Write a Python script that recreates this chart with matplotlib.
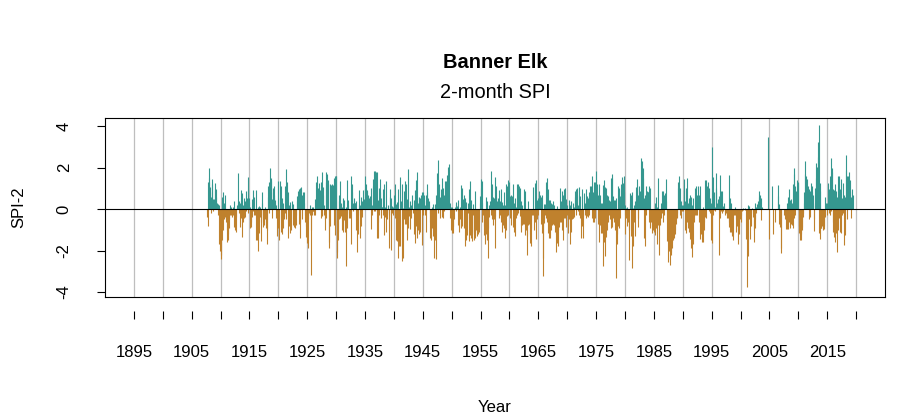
import matplotlib
matplotlib.use("Agg")
import matplotlib.pyplot as plt
import numpy as np

# monthly 2-month SPI, Banner Elk (first value = Sep 1907)
start_year = 1907
start_month = 9

spi_1900s = [
    -0.4, 1.3, -0.8, 1.3,                                                # 1907 Sep-Dec
    2.0, 1.5, 1.05, 0.8, 0.6, -0.2, 1.45, 1.2, 0.5, -0.1, 0.5, 0.3,      # 1908
    1.25, 0.9, 0.95, 0.6, 0.1, 0.3, 0.25, -0.3, 0.2, -1.7, -1.2, -2.0,   # 1909
]
spi_1910s = [
    -2.2, -2.4, -1.5, 0.6, -0.3, 0.8, -1.0, 0.3, -0.5, 0.7, -0.4, -0.6,
    -0.5, -1.6, -1.0, -1.5, -1.2, -0.9, -0.5, -0.3, 0.2, -0.3, 0.1, -0.4,
    -0.2, 0.1, -0.3, 0.4, -0.85, -0.6, -1.0, -0.8, -1.1, -0.4, 0.2, 0.1,
    0.3, 1.75, 0.4, -0.2, -0.85, 0.3, 0.9, -0.45, 0.75, -1.35, -0.6, 0.2,
    -0.45, 0.55, -0.4, 0.4, 0.85, -0.1, 0.55, 0.3, 1.55, 0.9, -0.2, 0.35,
    0.55, -0.9, 0.1, -0.85, -0.6, -0.4, 0.5, -0.1, 0.9, 0.6, -0.3, -0.1,
    -0.3, 0.9, -1.5, -1.5, -1.0, -2.0, 0.1, -1.15, 0.15, -0.4, 0.1, -0.3,
    -1.55, -0.6, 0.8, 0.3, -0.85, -0.5, -0.75, -0.3, -0.5, 0.1, -0.9, -0.6,
    -1.7, -1.0, 1.1, 0.6, 1.3, -0.2, 0.4, 2.0, 1.5, 1.35, -0.45, 0.5,
    1.0, 0.8, 1.1, 0.7, 0.55, 0.3, 0.45, -0.45, 0.2, -0.3, -1.3, -0.9,
]
spi_1920s = [
    1.35, -0.5, -1.5, 0.55, 1.37, -1.1, 1.1, -1.2, 0.55, 0.3, -0.9, -0.5,
    -0.4, -0.2, 1.1, -0.5, 1.95, 1.3, 0.85, 0.5, 0.8, -1.4, -0.8, 0.2,
    0.35, -1.15, -1.0, -0.5, 0.4, 0.2, 0.25, -0.75, -0.85, -0.6, -0.9, -0.4,
    -0.75, -0.3, 0.65, 0.4, 0.65, 0.85, -0.7, 0.95, -1.4, -0.6, 1.0, 0.5,
    1.05, -0.5, 0.7, 0.5, 0.8, 0.8, 0.3, -0.6, -0.3, -1.35, -0.8, -0.4,
    -1.65, -1.9, -0.5, -0.2, -0.1, 0.2, -0.3, -1.0, -3.2, -0.3, 0.1, -0.1,
    0.1, -0.1, -0.2, -0.3, -0.3, 0.5, 0.3, 1.3, 0.8, 1.6, 1.0, 0.6,
    0.3, 1.25, 0.9, 0.6, 1.3, -0.45, 1.8, -0.35, 1.05, 0.7, 0.2, -0.3,
    -1.0, -0.5, 1.8, -0.45, 1.3, 0.9, 1.7, 1.2, 1.4, -1.9, -1.6, -0.8,
    1.2, 0.6, 1.15, 0.8, 1.2, 0.9, 1.15, 1.5, -0.75, 1.58, -1.25, 1.6,
]
spi_1930s = [
    1.6, -2.35, -2.05, -1.5, -1.1, -0.5, 0.7, 0.4, 1.37, -0.45, 0.3, -0.35,
    0.1, -1.0, 0.55, -1.1, 0.45, -0.55, -1.1, -0.6, -2.75, 0.1, 1.4, -0.9,
    0.45, 0.2, -0.45, -0.2, -0.45, -0.3, 1.58, -1.7, 1.2, 0.8, 0.1, 0.3,
    -0.1, 0.2, 0.55, 0.3, 0.3, 0.4, -1.0, -0.6, -2.05, -1.2, -0.3, 0.2,
    0.9, -1.4, 0.2, -0.8, 0.6, 0.4, -0.4, 0.1, 0.9, 0.5, 0.3, 0.95,
    0.95, 1.6, 1.2, 0.95, 0.9, 0.8, 0.7, 0.6, 0.55, 0.4, 0.65, 0.3,
    1.0, -0.95, -0.3, 0.2, 1.45, 1.1, 1.85, -0.1, 1.85, -0.1, 1.8, 1.2,
    1.8, -1.4, -1.4, -0.6, 0.45, 1.0, -0.3, 1.45, 0.8, 0.55, -0.45, 0.1,
    0.1, -0.3, 0.95, 1.2, -1.25, 0.1, -0.4, 1.37, -1.1, -0.5, -0.2, 0.1,
    0.2, -1.9, -0.3, 0.6, 0.95, 0.55, -1.95, -1.0, 0.15, -0.2, 0.1, -0.3,
]
spi_1940s = [
    0.7, 0.4, 1.2, -0.45, 0.25, -1.5, 0.35, -1.55, 0.95, -2.35, -1.8, -0.5,
    1.55, -1.8, 0.4, 0.1, 1.2, -2.5, -2.35, 0.05, 0.85, -0.5, 0.3, -0.7,
    1.37, -0.7, 1.2, -1.5, 0.5, -0.9, 1.95, -0.35, 0.1, -0.95, 0.4, -0.45,
    0.2, 0.1, 0.7, -0.2, -0.1, 0.45, -1.2, 0.9, -1.65, -0.8, 1.4, 0.6,
    1.8, -1.4, -1.0, 0.3, 0.6, -1.2, 0.55, -1.1, 0.7, 0.4, 0.8, -1.75,
    0.8, -0.3, 0.7, 0.4, -0.3, 0.2, 0.7, -1.1, 1.2, 0.8, 0.55, 0.3,
    0.4, 0.2, -0.2, -0.6, -1.4, -1.0, -1.5, -0.9, 0.1, -1.3, 0.25, -0.3,
    -2.35, -1.5, 0.25, -2.4, 0.7, 0.4, 1.75, -0.2, 2.35, 1.2, 0.55, -0.45,
    0.6, 0.95, 0.5, -0.4, 1.5, 1.0, 0.45, -0.45, 0.7, -0.1, 0.3, 1.37,
    1.37, 1.0, 1.65, 1.2, 2.05, 1.5, 2.15, 0.7, -0.45, 0.3, -1.0, 0.1,
]
spi_1950s = [
    0.1, -1.15, -0.8, -1.15, -0.5, -0.1, 0.1, 0.05, 0.35, -0.1, 0.25, 0.15,
    0.1, -0.75, 0.45, -0.85, -1.1, -0.5, 0.1, -0.9, 1.18, -0.8, 1.0, 0.5,
    0.2, -0.9, 0.7, -1.8, 0.55, -1.5, 0.35, -1.25, -0.5, -0.2, 0.3, 0.1,
    0.95, -1.55, 1.37, -1.25, 0.45, -1.4, -1.2, -1.55, 0.25, -0.3, -1.1, -1.5,
    0.85, -1.4, -1.0, -0.8, -1.3, -1.1, -1.2, -0.9, -1.1, -0.5, 0.65, 0.3,
    1.45, 1.0, 1.37, 0.3, -0.6, -0.3, -0.2, -0.8, -1.25, -1.0, -1.7, -1.2,
    0.6, -1.5, 0.4, -2.35, -0.9, -0.4, 0.2, 0.1, 0.4, -0.3, 1.85, -0.5,
    1.2, -0.75, 0.6, -0.5, 0.55, -1.9, 1.55, -0.35, 1.1, 0.6, 0.25, 0.4,
    0.25, 0.55, -0.45, 0.9, -0.3, 0.4, -0.6, 0.95, -1.1, 0.35, -0.75, 0.2,
    0.8, -0.9, 0.2, -1.4, 1.2, -1.0, 1.1, -0.35, 1.0, -0.3, 1.4, 0.8,
]
spi_1960s = [
    1.3, -0.45, 0.65, -0.75, 0.7, 0.3, 0.65, -0.85, 1.2, -1.1, 0.3, -1.3,
    0.55, -0.45, 0.1, -0.3, 1.2, -0.2, 1.2, 0.9, 1.1, -0.35, 1.0, -0.75,
    0.4, -1.1, 0.2, -0.75, -0.7, -0.4, 0.95, -0.7, 0.85, -1.25, -0.5, -1.0,
    -2.2, -1.3, 0.4, -0.75, -0.7, -0.5, -1.65, -1.2, -1.8, -0.9, -0.3, -0.2,
    1.05, -0.3, -0.45, -0.2, -1.0, -0.6, 1.25, -1.45, 1.4, -0.5, 0.45, -0.3,
    0.55, 0.3, 0.85, 0.5, 0.7, -0.7, 0.6, -1.15, 0.7, -3.25, -2.35, 0.25,
    -0.65, -0.3, 0.25, -0.45, 1.3, -0.6, 1.5, -0.45, 0.95, -1.15, 0.45, -1.4,
    0.45, -1.4, -1.0, 0.3, -0.75, 0.25, -0.7, 0.4, -0.75, 0.2, -1.1, -0.5,
    -2.05, -1.2, 0.15, -1.65, -1.8, -1.0, -0.85, -0.3, 1.0, -0.6, 0.15, -0.6,
    0.4, -1.0, 0.85, -1.5, 0.7, -0.45, 0.95, -0.45, 1.0, 0.5, -0.85, -0.3,
]
spi_1970s = [
    0.2, -1.15, -0.8, -0.5, 0.45, -1.7, 0.2, -1.1, 0.4, -0.5, -0.3, -0.45,
    -0.45, 0.3, -0.4, 0.1, 0.85, 0.6, 0.95, -0.3, 1.0, 0.7, -0.1, 0.2,
    1.05, -0.3, 0.65, -0.45, -0.5, -1.4, -0.8, 0.95, -0.35, -1.4, 0.75, 0.2,
    0.3, -0.3, 0.95, -0.45, 0.4, -0.35, 0.65, -0.4, 0.55, -0.3, 0.8, 0.6,
    1.1, 0.8, 1.1, 1.6, -0.45, 0.8, -0.6, 1.3, -0.6, 1.3, -0.45, 0.9,
    1.85, 1.2, 0.55, -0.7, 0.7, -1.6, 1.2, -0.75, 0.7, -0.75, 0.3, -1.15,
    0.3, -1.15, 1.15, -2.75, 1.4, -1.6, 1.05, -2.25, 1.0, -1.35, 0.7, -1.0,
    0.65, -0.6, 0.45, -0.3, 0.4, -0.5, 1.5, -0.9, 1.7, -0.85, 1.5, -0.45,
    0.65, -0.6, 0.45, -1.0, 0.45, -3.3, 0.55, -1.2, -1.7, -0.8, 1.1, -0.9,
    1.0, -0.45, 0.65, 0.9, 1.2, 0.8, 1.55, 1.0, 1.25, 0.8, 1.6, -0.3,
]
spi_1980s = [
    0.2, -1.2, 0.05, -0.45, 0.1, -0.8, -0.3, -0.6, -2.45, -1.0, 0.3, 0.75,
    0.7, -1.3, 0.8, -2.85, 0.05, -1.8, 0.2, -0.6, 0.4, -1.3, 1.05, 0.5,
    1.0, 1.45, -0.85, 0.7, -0.45, 0.4, 1.1, 0.6, 0.85, 0.5, 2.45, 1.6,
    2.3, 2.0, 1.5, 0.55, -1.4, 0.7, -1.8, 1.1, -0.3, 0.85, 0.6, 0.8,
    0.8, -0.6, 1.1, -0.9, 1.0, -0.5, -0.6, -0.3, -1.15, -0.8, -1.0, -0.6,
    -1.1, -0.7, -1.25, 0.3, -0.9, 0.6, -1.7, 0.1, -0.75, 1.5, -2.2, -0.8,
    -0.75, -0.5, -0.45, 0.3, -0.2, 0.85, -0.6, 0.85, -0.3, 0.7, 0.5, 0.75,
    0.7, 0.4, 1.45, -0.5, -1.55, -1.1, -2.55, -2.0, -1.7, -2.0, -2.7, -2.2,
    -2.05, -1.6, -1.9, -1.5, -1.1, -1.2, -1.4, -1.2, -1.0, -0.7, -0.5, -0.4,
    -0.45, -0.2, 1.3, 1.0, 1.58, 0.65, -0.3, 1.0, -0.45, 0.4, 0.2, -0.1,
]
spi_1990s = [
    0.2, -0.1, 1.45, 0.9, 0.4, -1.0, 1.0, -1.15, 1.5, -0.6, -0.9, 0.3,
    0.55, -1.1, 0.7, -1.45, 0.2, -1.9, 0.6, -2.3, 0.2, -1.7, 0.55, -0.35,
    -0.6, -0.3, 1.0, -0.3, 1.1, -0.3, 0.7, 0.4, 1.1, -0.6, 0.7, -1.45,
    1.1, -0.45, -1.2, -1.6, -1.0, -1.6, 0.1, -0.8, -0.6, -1.0, -0.4, 1.4,
    1.4, -0.45, 0.9, 1.1, 0.7, 1.3, -0.1, 1.0, -0.2, 0.55, -1.5, 0.3,
    3.0, -1.65, 1.55, -0.3, 0.8, -0.05, 0.1, -0.1, 1.75, 1.0, 0.8, 0.2,
    0.3, 0.5, 0.15, -2.2, 0.65, -0.45, 1.65, -0.1, 0.85, -0.2, 0.85, -0.1,
    0.15, 0.3, 0.1, -0.2, -0.3, -0.2, -0.1, -0.3, -0.45, -0.3, -0.45, -0.6,
    -0.85, 1.65, -1.1, 0.55, -1.1, 0.3, -1.3, -1.2, -1.5, -0.3, -0.2, -0.3,
    -0.3, 0.1, -0.5, -1.1, -0.6, -0.8, -1.0, -1.7, -1.2, -0.8, -0.5, -0.3,
]
spi_2000s = [
    -0.6, -0.3, -0.1, 0.0, -0.05, 0.05, -0.05, 0.0, 0.0, -0.05, 0.05, 0.0,
    -1.45, -1.0, -3.75, -2.25, 0.2, -0.5, 0.15, -0.3, -1.45, -0.8, -0.1, 0.05,
    0.0, -0.2, -0.4, -1.6, -1.0, -0.9, 0.3, -0.5, -0.2, 0.1, 0.25, 0.1,
    0.3, 0.4, 0.85, 0.6, 0.7, 0.5, 0.55, -0.55, 0.1, 0.05, 0.0, 0.0,
    0.0, 0.0, 0.0, 0.0, 0.0, 0.0, 0.0, 0.0, 3.45, 0.0, 0.0, 0.0,
    -1.45, 0.0, 0.0, 0.0, 0.0, 0.0, 1.1, 0.0, -1.2, 0.0, 0.0, -0.6,
    0.0, 0.0, 0.0, 0.0, 0.0, 1.15, 0.65, -0.7, 0.25, -0.85, 0.0, -2.1,
    -1.9, 0.0, 0.0, 0.0, 0.0, 0.0, 0.0, -0.3, 0.0, -0.5, -0.95, 0.0,
    -0.95, 0.3, -0.95, 0.6, -0.6, 0.95, -0.9, 0.45, -0.7, 0.5, -0.75, 0.3,
    1.2, -0.9, 1.7, -0.45, 2.0, -0.3, 1.1, 0.8, 0.85, 1.4, 0.5, 1.3,
]
spi_2010s = [
    1.25, -1.15, -0.8, -1.25, -1.5, -1.2, -1.5, -1.0, -0.85, -0.4, -0.2, 0.3,
    0.8, 1.7, 2.3, 1.6, 1.1, 0.6, 1.45, 0.9, 1.1, 0.7, 0.95, -0.5,
    0.85, -0.4, 1.25, 0.9, 1.1, 0.8, 0.7, 0.3, -1.05, -0.5, 0.2, 1.0,
    2.2, 1.5, 2.05, 1.2, 3.25, 2.5, 4.05, -1.15, 0.85, -1.45, 1.25, -0.9,
    -0.9, -0.7, -0.8, -0.6, -1.0, -0.8, -0.95, -0.4, 0.6, 0.2, 0.3, -0.3,
    0.3, 0.1, 1.25, -0.2, 0.95, -0.3, 1.58, -0.1, 2.45, 2.0, 1.8, -0.6,
    0.95, -1.1, 0.9, -1.35, 1.2, -1.6, 0.85, -1.15, 0.6, -2.05, -1.0, 1.6,
    1.6, -0.45, 0.95, -1.1, 1.45, -1.15, 0.55, -0.3, 1.25, -0.2, 0.7, -1.75,
    0.6, -1.25, 0.3, 2.6, 1.9, -0.5, 1.6, 1.2, 1.6, 1.0, 1.8, 1.4,
    0.85, -0.45, 0.6, 0.3, 0.95, 0.7,
]

year_ticks = list(range(1895, 2021, 5))
year_labels = [str(y) if (y - 1895) % 10 == 0 else "" for y in year_ticks]
y_ticks = [-4, -2, 0, 2, 4]

pos_col = "#35978f"
neg_col = "#bf812d"

spi = np.array(spi_1900s + spi_1910s + spi_1920s + spi_1930s + spi_1940s
               + spi_1950s + spi_1960s + spi_1970s + spi_1980s + spi_1990s
               + spi_2000s + spi_2010s)
t = start_year + (start_month - 1) / 12 + np.arange(len(spi)) / 12

plt.rcParams["font.family"] = ["Liberation Sans", "DejaVu Sans"]

fig = plt.figure(figsize=(9, 4.2), dpi=100)
ax = fig.add_axes([105 / 900, 1 - 297 / 420, 780 / 900, 179 / 420])

for yr in year_ticks:
    ax.axvline(yr, color="#bebebe", lw=0.9, zorder=0)

pos = spi > 0
ax.vlines(t[pos], 0, spi[pos], color=pos_col, lw=0.8, zorder=2)
ax.vlines(t[~pos], 0, spi[~pos], color=neg_col, lw=0.8, zorder=2)
ax.axhline(0, color="black", lw=0.8, zorder=3)

ax.set_xlim(1890, 2025)
ax.set_ylim(-4.24, 4.39)

for s in ax.spines.values():
    s.set_linewidth(0.8)

ax.set_yticks(y_ticks)
ax.set_yticklabels([str(v) for v in y_ticks], rotation=90, va="center", fontsize=12)
ax.tick_params(axis="y", direction="out", length=6, width=0.8, pad=18)
ax.set_xticks([])

sec = ax.secondary_xaxis(-0.08)
sec.set_xticks(year_ticks)
sec.set_xticklabels(year_labels, fontsize=12)
sec.spines["bottom"].set_visible(False)
sec.tick_params(axis="x", direction="out", length=6, width=0.8, pad=18)

ax.set_ylabel("SPI-2", fontsize=12, labelpad=22)
fig.text(495 / 900, 1 - 407 / 420, "Year", ha="center", va="center", fontsize=12)
fig.text(495 / 900, 1 - 62 / 420, "Banner Elk", ha="center", va="center",
         fontsize=14.4, fontweight="bold")
fig.text(495 / 900, 1 - 93 / 420, "2-month SPI", ha="center", va="center", fontsize=14.4)

fig.savefig("out.png", dpi=100)
